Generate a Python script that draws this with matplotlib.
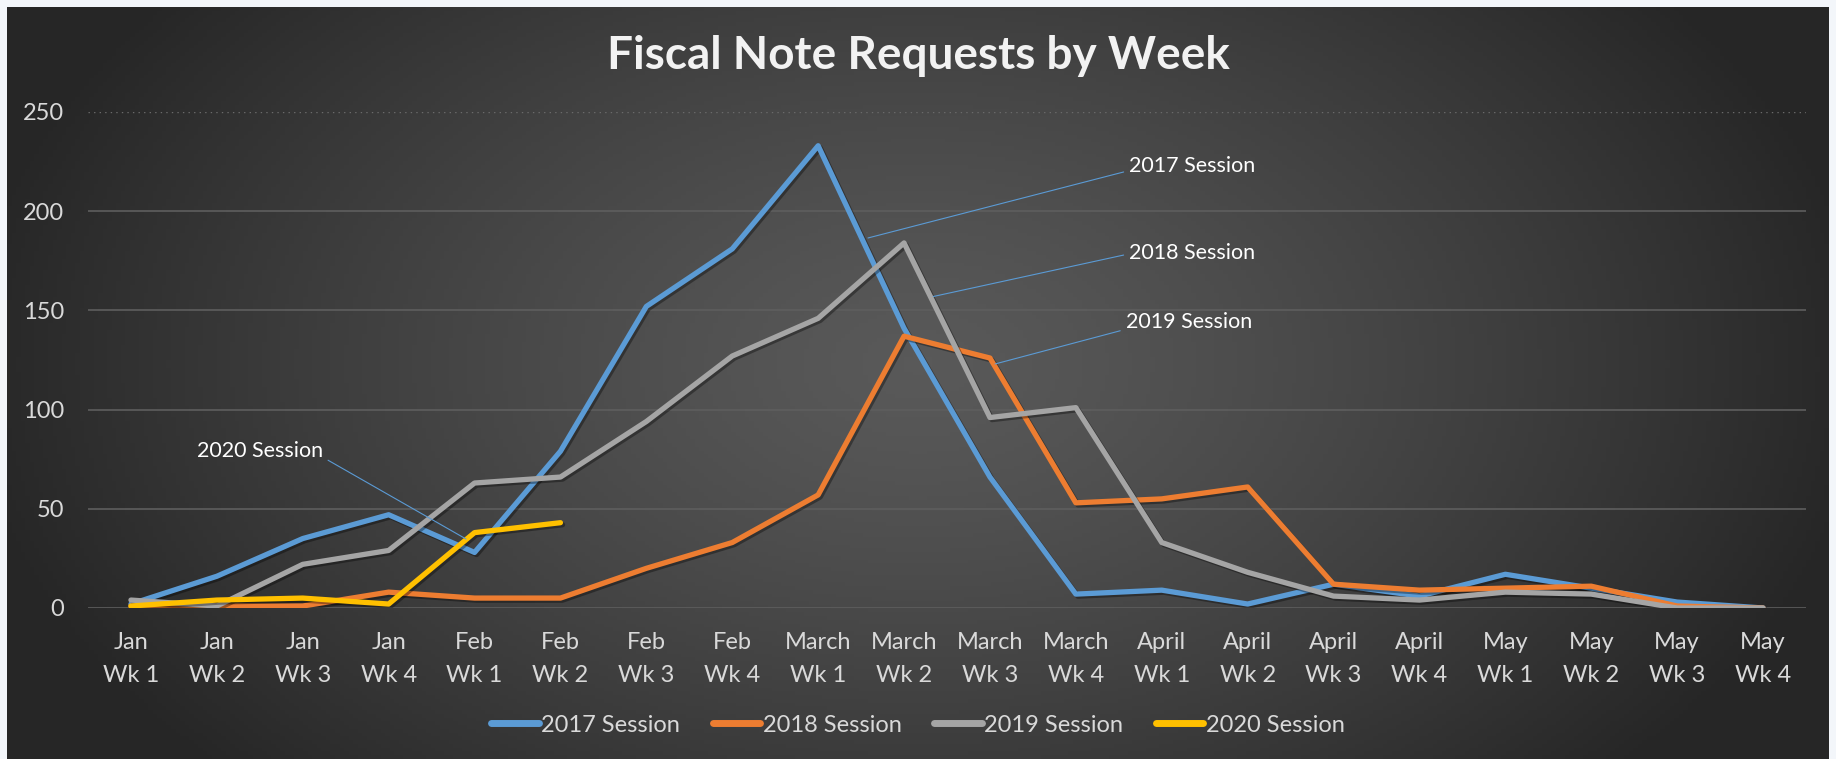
import numpy as np
import matplotlib
matplotlib.use('Agg')
import matplotlib.pyplot as plt
import matplotlib.patheffects as pe

plt.rcParams['font.family'] = ['Lato', 'DejaVu Sans']

weeks = ['Jan\nWk 1', 'Jan\nWk 2', 'Jan\nWk 3', 'Jan\nWk 4',
         'Feb\nWk 1', 'Feb\nWk 2', 'Feb\nWk 3', 'Feb\nWk 4',
         'March\nWk 1', 'March\nWk 2', 'March\nWk 3', 'March\nWk 4',
         'April\nWk 1', 'April\nWk 2', 'April\nWk 3', 'April\nWk 4',
         'May\nWk 1', 'May\nWk 2', 'May\nWk 3', 'May\nWk 4']

s2017 = [2, 16, 35, 47, 28, 79, 152, 181, 233, 141, 66, 7, 9, 2, 12, 6, 17, 10, 3, 0]
s2018 = [1, 1, 1, 8, 5, 5, 20, 33, 57, 137, 126, 53, 55, 61, 12, 9, 10, 11, 1, 0]
s2019 = [4, 1, 22, 29, 63, 66, 94, 127, 146, 184, 96, 101, 33, 18, 6, 4, 8, 7, 0, 0]
s2020 = [1, 4, 5, 2, 38, 43]

series = ['2017 Session', '2018 Session', '2019 Session', '2020 Session']
colors = ['#5B9BD5', '#ED7D31', '#A5A5A5', '#FFC000']

fig = plt.figure(figsize=(18.36, 7.59), dpi=100)
fig.patch.set_facecolor('#F3F6FA')

# dark radial-ish background panel
bg = fig.add_axes([7 / 1836, 0, 1822 / 1836, 752 / 759])
gx, gy = np.meshgrid(np.linspace(-1, 1, 400), np.linspace(-1, 1, 200))
r = np.sqrt(((gx - 0.0) / 1.05) ** 2 + ((gy + 0.05) / 1.6) ** 2)
r = np.clip(r, 0, 1)
lo, hi = 0.15, 0.35
shade = hi - (hi - lo) * r ** 1.3
bg.imshow(np.dstack([shade, shade, shade]), aspect='auto', extent=[0, 1, 0, 1])
bg.axis('off')

ax = fig.add_axes([88 / 1836, 1 - 608 / 759, (1806 - 88) / 1836, (608 - 112) / 759])
ax.set_facecolor('none')
x = np.arange(len(weeks))

data = [s2017, s2018, s2019, s2020]
for vals, name, c in zip(data, series, colors):
    ax.plot(np.arange(len(vals)), vals, color=c, lw=3.8, label=name,
            solid_joinstyle='round', solid_capstyle='round', zorder=3,
            path_effects=[pe.SimpleLineShadow(offset=(1.5, -1.5), alpha=0.35, shadow_color='black'),
                          pe.Normal()])

ax.set_xlim(-0.5, len(weeks) - 0.5)
ax.set_ylim(0, 250)
ax.set_yticks([0, 50, 100, 150, 200, 250])
ax.set_xticks(x)
ax.set_xticklabels(weeks, linespacing=1.75)
for v in [0, 50, 100, 150, 200]:
    ax.axhline(v, color='#5E5E5E', lw=1.2, zorder=1)
ax.axhline(250, color='#6A6A6A', lw=1, ls=(0, (1, 3)), zorder=1)
ax.tick_params(axis='both', length=0, colors='#D9D9D9', labelsize=17)
ax.tick_params(axis='y', pad=17)
ax.tick_params(axis='x', pad=17)
for sp in ax.spines.values():
    sp.set_visible(False)

fig.text(0.5, 1 - 56 / 759, 'Fiscal Note Requests by Week', ha='center', va='center',
         fontsize=33, fontweight='bold', color='#F2F2F2')

# callout labels
lead = dict(arrowstyle='-', color='#5B9BD5', lw=0.8, shrinkA=2, shrinkB=0)
ax.annotate('2017 Session', xy=(8.58, 186.5), xytext=(11.62, 223), fontsize=15.5,
            color='white', va='center', ha='left',
            arrowprops=dict(lead, relpos=(0, 0.25)))
ax.annotate('2018 Session', xy=(9.34, 157), xytext=(11.62, 179), fontsize=15.5,
            color='white', va='center', ha='left',
            arrowprops=dict(lead, relpos=(0, 0.45)))
ax.annotate('2019 Session', xy=(10.06, 123), xytext=(11.58, 144), fontsize=15.5,
            color='white', va='center', ha='left',
            arrowprops=dict(lead, relpos=(0, 0.15)))
ax.annotate('2020 Session', xy=(3.9, 34.8), xytext=(1.5, 79), fontsize=15.5,
            color='white', va='center', ha='center',
            arrowprops=dict(lead, relpos=(1, 0.2)))

leg = fig.legend(loc='center', bbox_to_anchor=(0.5, 1 - 725 / 759), ncol=4, frameon=False,
                 fontsize=17, handlelength=2.0, handletextpad=0.1, columnspacing=1.4)
for t in leg.get_texts():
    t.set_color('#D9D9D9')
for h in leg.legend_handles:
    h.set_linewidth(5)
    h.set_path_effects([])

fig.savefig('out.png', dpi=100, facecolor=fig.get_facecolor())
